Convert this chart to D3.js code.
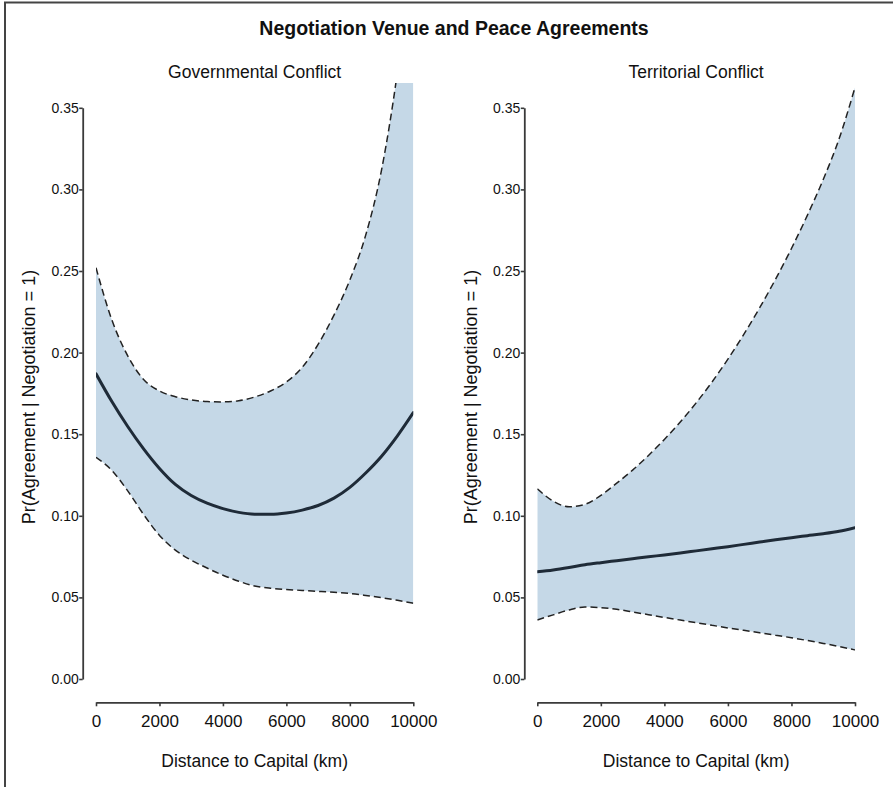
<!DOCTYPE html>
<html>
<head>
<meta charset="utf-8">
<script src="https://cdn.jsdelivr.net/npm/d3@7"></script>
<style>
  html, body { margin: 0; padding: 0; background: #fff; }
  svg { display: block; }
  text { font-family: "Liberation Sans", Arial, Helvetica, sans-serif; fill: #111; }
</style>
</head>
<body>
<svg id="chart" width="893" height="787"></svg>
<script>
// ---- Data ----
const distance = [0, 500, 1000, 1500, 2000, 2500, 3000, 3500, 4000, 4500, 5000,
                  5500, 6000, 6500, 7000, 7500, 8000, 8500, 9000, 9500, 10000];

const govFit   = [0.187, 0.170, 0.1547, 0.141, 0.129, 0.1192, 0.1124, 0.1077, 0.1044, 0.1021, 0.1010,
                  0.1009, 0.1017, 0.1035, 0.1063, 0.1108, 0.1174, 0.1262, 0.1365, 0.149, 0.1632];
const govLower = [0.1358, 0.1278, 0.1153, 0.1008, 0.088, 0.079, 0.0728, 0.068, 0.0636, 0.0599, 0.057,
                  0.0556, 0.0548, 0.0543, 0.0537, 0.0531, 0.0524, 0.0512, 0.0498, 0.0482, 0.0464];
const govUpper = [0.252, 0.220, 0.198, 0.1835, 0.1765, 0.173, 0.171, 0.170, 0.1698, 0.1705, 0.1728,
                  0.1765, 0.182, 0.191, 0.205, 0.223, 0.2445, 0.272, 0.312, 0.372, 0.452];

const terFit   = [0.0657, 0.0668, 0.0683, 0.0700, 0.0713, 0.0725, 0.0737, 0.0749, 0.0760, 0.0772, 0.0785,
                  0.0798, 0.0811, 0.0825, 0.0839, 0.0853, 0.0866, 0.0878, 0.0890, 0.0905, 0.0927];
const terLower = [0.0362, 0.0393, 0.0423, 0.0441, 0.0437, 0.0427, 0.0411, 0.0394, 0.0377, 0.0361, 0.0345,
                  0.0329, 0.0313, 0.0298, 0.0283, 0.0268, 0.0253, 0.0236, 0.0218, 0.0199, 0.0178];
const terUpper = [0.1165, 0.1090, 0.1055, 0.1070, 0.1125, 0.1200, 0.1280, 0.1370, 0.1468, 0.1575, 0.1692,
                  0.1820, 0.1960, 0.2112, 0.2275, 0.2450, 0.2638, 0.2841, 0.3061, 0.3310, 0.3625];

const panelTitles = ["Governmental Conflict", "Territorial Conflict"];
const xTicks = [0, 2000, 4000, 6000, 8000, 10000];
const yTicks = [0, 0.05, 0.10, 0.15, 0.20, 0.25, 0.30, 0.35];
const mainTitle = "Negotiation Venue and Peace Agreements";
const xTitle = "Distance to Capital (km)";
const yTitle = "Pr(Agreement | Negotiation = 1)";

// ---- Build panels from the arrays ----
const series = [
  { fit: govFit, lower: govLower, upper: govUpper },
  { fit: terFit, lower: terLower, upper: terUpper }
];
const panels = panelTitles.map((title, i) => ({
  title,
  rows: distance.map((d, j) => ({ d, fit: series[i].fit[j], lo: series[i].lower[j], hi: series[i].upper[j] }))
}));

// ---- Layout ----
const svg = d3.select("#chart");
const W = 893, H = 787;
const layout = [
  { x0: 96, x1: 413.3, yAxisX: 82.7, yTitleX: 35 },
  { x0: 537.3, x1: 855, yAxisX: 524.3, yTitleX: 477 }
];
const yBottom = 679, yTop = 107.8, plotTop = 83, xAxisY = 702.3;

const fillColor = "#c5d8e7";
const lineColor = "#1f2b38";
const axisColor = "#3a3a3a";

// frame (top and left edges visible)
svg.append("line").attr("x1", 5).attr("x2", 5).attr("y1", 2).attr("y2", H)
  .attr("stroke", "#444").attr("stroke-width", 2);
svg.append("line").attr("x1", 4).attr("x2", W).attr("y1", 2.5).attr("y2", 2.5)
  .attr("stroke", "#444").attr("stroke-width", 2);

// main title
svg.append("text")
  .attr("x", 454).attr("y", 35)
  .attr("text-anchor", "middle")
  .style("font-weight", "bold").style("font-size", "19.5px")
  .text(mainTitle);

const y = d3.scaleLinear().domain([0, 0.35]).range([yBottom, yTop]);

panels.forEach((p, i) => {
  const L = layout[i];
  const x = d3.scaleLinear().domain([0, 10000]).range([L.x0, L.x1]);
  const g = svg.append("g");

  const clipId = "clip" + i;
  svg.append("clipPath").attr("id", clipId)
    .append("rect").attr("x", L.x0).attr("y", plotTop)
    .attr("width", L.x1 - L.x0).attr("height", xAxisY - plotTop);

  const plot = g.append("g").attr("clip-path", `url(#${clipId})`);

  const area = d3.area()
    .x(r => x(r.d)).y0(r => y(r.lo)).y1(r => y(r.hi))
    .curve(d3.curveMonotoneX);
  plot.append("path").datum(p.rows).attr("d", area).attr("fill", fillColor);

  const mk = key => d3.line().x(r => x(r.d)).y(r => y(r[key])).curve(d3.curveMonotoneX);

  ["lo", "hi"].forEach(k => {
    plot.append("path").datum(p.rows).attr("d", mk(k))
      .attr("fill", "none").attr("stroke", "#222")
      .attr("stroke-width", 1.5).attr("stroke-dasharray", "7,4");
  });

  plot.append("path").datum(p.rows).attr("d", mk("fit"))
    .attr("fill", "none").attr("stroke", lineColor)
    .attr("stroke-width", 3).attr("stroke-linecap", "round");

  // y axis
  const ya = g.append("g").attr("transform", `translate(${L.yAxisX},0)`)
    .call(d3.axisLeft(y).tickValues(yTicks).tickFormat(d3.format(".2f"))
      .tickSize(3.5).tickSizeOuter(0).tickPadding(0.5));
  ya.selectAll("text").style("font-size", "14px").attr("fill", "#111");

  // x axis
  const xa = g.append("g").attr("transform", `translate(0,${xAxisY})`)
    .call(d3.axisBottom(x).tickValues(xTicks).tickFormat(d3.format("d"))
      .tickSize(4).tickSizeOuter(0).tickPadding(8.7));
  xa.selectAll("text").style("font-size", "17px").attr("fill", "#111");

  [ya, xa].forEach(a => {
    a.select(".domain").attr("stroke", axisColor).attr("stroke-width", 1.8);
    a.selectAll(".tick line").attr("stroke", axisColor).attr("stroke-width", 1.6);
  });

  // panel title
  g.append("text")
    .attr("x", (L.x0 + L.x1) / 2).attr("y", 77.5)
    .attr("text-anchor", "middle").style("font-size", "17.5px")
    .text(p.title);

  // x title
  g.append("text")
    .attr("x", (L.x0 + L.x1) / 2).attr("y", 767)
    .attr("text-anchor", "middle").style("font-size", "17.5px")
    .text(xTitle);

  // y title
  g.append("text")
    .attr("transform", `translate(${L.yTitleX},397) rotate(-90)`)
    .attr("text-anchor", "middle").style("font-size", "18px")
    .text(yTitle);
});
</script>
</body>
</html>
